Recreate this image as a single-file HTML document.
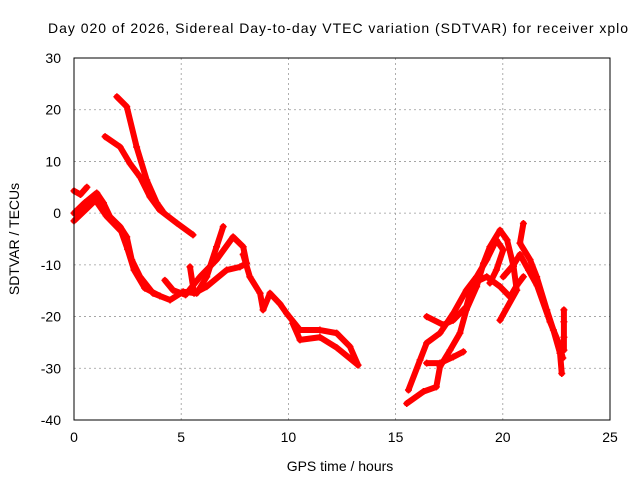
<!DOCTYPE html>
<html><head><meta charset="utf-8"><style>
body{margin:0;background:#fff}
svg{display:block;font-family:"Liberation Sans",sans-serif}
</style></head><body>
<svg id="chart" width="640" height="480" viewBox="0 0 640 480">
<rect width="640" height="480" fill="#fff"/>
<text x="48" y="33" font-size="14" textLength="580" lengthAdjust="spacing">Day 020 of 2026, Sidereal Day-to-day VTEC variation (SDTVAR) for receiver xplo</text>
<text x="340" y="471" font-size="14" text-anchor="middle">GPS time / hours</text>
<text x="19" y="239" font-size="14" text-anchor="middle" transform="rotate(-90 19 239)">SDTVAR / TECUs</text>
<g id="grid"></g><g id="axes"></g><g id="series"></g>
<rect x="74" y="58" width="536" height="362" fill="none" stroke="#000"/>
</svg>
<script>
const xTicks=[0,5,10,15,20,25];
const yTicks=[30,20,10,0,-10,-20,-30,-40];
const trackA=[[0,4.3],[0.3,3.6],[0.6,5]];
const trackB=[[0,0],[0.5,2],[1.06,3.9],[1.37,2],[1.68,-0.7],[2.15,-2.6],[2.46,-4.6],[2.69,-9],[3.08,-12.3],[3.69,-15.5],[4.48,-16.8],[5.09,-15.2],[5.72,-15.5],[6.19,-12.3],[6.65,-6.5],[6.96,-2.6]];
const trackC=[[0,-1.5],[0.5,0.5],[1.0,2.5],[1.5,-0.5],[2.2,-3.5],[2.5,-7],[2.8,-11],[3.3,-14.5],[4,-16]];
const trackD=[[4.24,-13],[4.62,-14.9],[5.2,-15.8],[5.88,-12.3],[6.65,-9],[7.42,-4.6],[7.89,-6.5],[8.05,-9.7],[7.74,-10.4],[7.12,-11],[6.19,-14.2],[5.6,-15.5],[5.41,-10.4]];
const trackE=[[7.89,-8],[8.2,-12.3],[8.68,-15.5],[8.82,-18.7],[9.14,-15.5],[9.6,-17.5],[9.92,-19.4],[10.54,-22.6],[11.47,-22.6],[12.25,-23.2],[12.87,-25.8],[13.25,-29.4]];
const trackE2=[[10.2,-21.3],[10.54,-24.5],[11.47,-24],[12.25,-26],[13.2,-29.2]];
const trackF=[[1.45,14.8],[2.15,12.8],[2.61,9.6],[3.08,7],[3.54,3.2],[4.0,0.6],[4.79,-1.9],[5.55,-4.2]];
const trackG=[[2.0,22.5],[2.46,20.6],[2.92,12.8],[3.39,6.4],[3.86,2],[4.15,0.3]];
const trackH=[[15.52,-36.8],[16.3,-34.5],[16.9,-33.6],[17.07,-29.7],[17.54,-26.5],[18.0,-23.2],[18.3,-18.7],[18.78,-14.2],[19.1,-9.7],[19.4,-6.5],[19.87,-3.3],[20.2,-5.2],[20.5,-10.3],[20.65,-14.9],[19.87,-20.7]];
const trackI=[[15.6,-34.2],[16.14,-28.4],[16.45,-25.1],[17.07,-23.2],[17.69,-19.4],[18.3,-14.9],[18.78,-12.3],[19.25,-9],[19.7,-5.2],[20.02,-7.1],[19.7,-11],[19.4,-13.5]];
const trackJ=[[16.45,-29],[17.07,-29],[17.69,-27.8],[18.16,-26.8]];
const trackK=[[16.45,-20],[17.22,-21.6],[17.69,-20.7],[18.3,-18.1],[18.6,-13.6],[19.25,-12.3],[19.87,-14.2],[20.34,-16.2],[20.65,-14],[20.96,-12.3]];
const trackL=[[20.96,-2],[20.8,-5.8],[21.27,-9],[21.58,-12.3],[22.05,-18.7],[22.36,-22.6],[22.67,-27.1],[22.75,-31]];
const trackM=[[20.02,-12.3],[20.5,-10],[20.8,-8],[21.2,-11],[21.6,-14],[22.2,-21],[22.6,-25],[22.8,-28]];
const trackN=[[22.85,-18.7],[22.85,-21],[22.85,-24],[22.85,-26.5]];
const tracks=[trackA,trackB,trackC,trackD,trackE,trackE2,trackF,trackG,trackH,trackI,trackJ,trackK,trackL,trackM,trackN];
const X=v=>74+v*(536/25), Y=v=>58+(30-v)*(362/70);
const NS="http://www.w3.org/2000/svg";
const g=document.getElementById('grid'),ax=document.getElementById('axes'),se=document.getElementById('series');
function mk(t,a,p){const e=document.createElementNS(NS,t);for(const k in a)e.setAttribute(k,a[k]);p.appendChild(e);return e;}
xTicks.forEach(v=>{
 const l=mk('line',{x1:X(v),x2:X(v),y1:58,y2:420,stroke:'#999','stroke-dasharray':'2,3','stroke-width':0.8},g);
 
 
 const t=mk('text',{x:X(v),y:442,'font-size':14,'text-anchor':'middle'},ax);t.textContent=v;
 
 
});
yTicks.forEach(v=>{
 const l=mk('line',{x1:74,x2:610,y1:Y(v),y2:Y(v),stroke:'#999','stroke-dasharray':'2,3','stroke-width':0.8},g);
 
 
 const t=mk('text',{x:61,y:Y(v)+5,'font-size':14,'text-anchor':'end'},ax);t.textContent=v;
 
 
});
tracks.forEach((tr,i)=>{
 const p=mk('polyline',{points:tr.map(d=>X(d[0])+','+Y(d[1])).join(' '),fill:'none',stroke:'#f00','stroke-width':6,'stroke-linejoin':'round','stroke-linecap':'round'},se);
 
 
 tr.forEach(d=>{
  const m=mk('path',{d:`M${X(d[0])-3.5},${Y(d[1])}h7M${X(d[0])},${Y(d[1])-3.5}v7`,stroke:'#f00','stroke-width':1.5},se);
  
  
 });
});
</script>
</body></html>
